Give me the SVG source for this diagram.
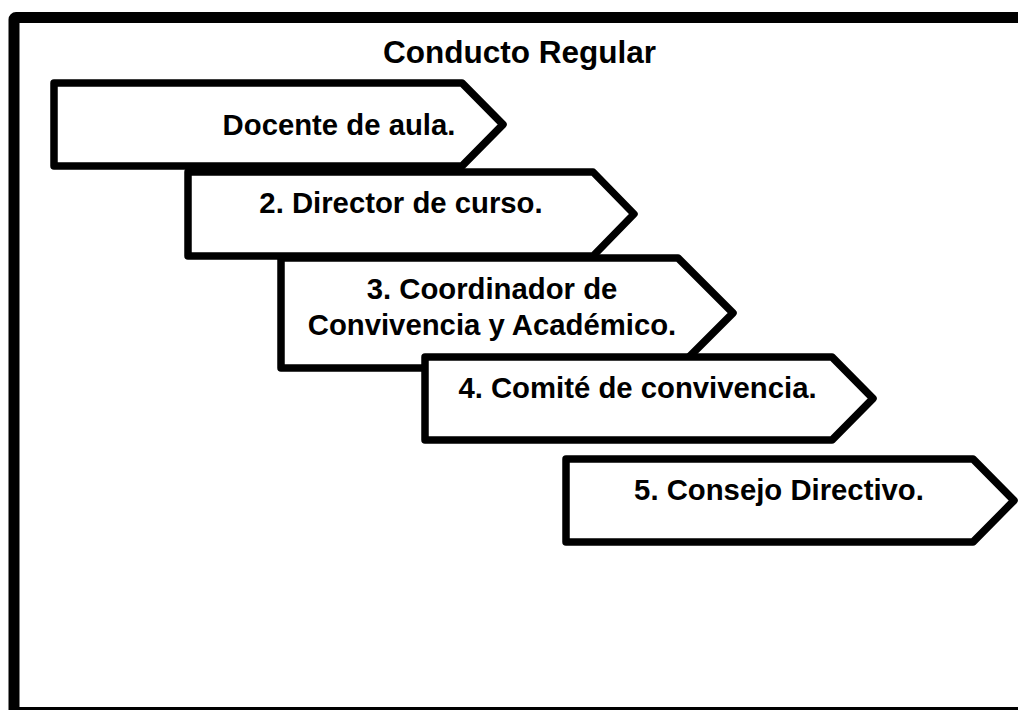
<svg xmlns="http://www.w3.org/2000/svg" width="1018" height="710" viewBox="0 0 1018 710">
<style>
.frame{fill:#fff;stroke:#000;stroke-width:11;stroke-linejoin:round}
.node path{fill:#fff;stroke:#000;stroke-width:7.5;stroke-linejoin:round}
text{font-family:"Liberation Sans",Arial,sans-serif;font-weight:bold;fill:#000;text-anchor:middle}
.lbl{font-size:29.3px}
.title{font-size:31.5px}
</style>
<rect class="frame" x="14" y="17.5" width="1012" height="695" rx="2"/>
<text class="title" x="519.5" y="63">Conducto Regular</text>
<g id="n1" class="node">
<path d="M54 83 H462 L503 124.5 L462 166 H54 Z"/>
<text class="lbl" x="339" y="135">Docente de aula.</text>
</g>
<g id="n2" class="node">
<path d="M188 172 H593 L634 214 L593 256 H188 Z"/>
<text class="lbl" x="401" y="213">2. Director de curso.</text>
</g>
<g id="n3" class="node">
<path d="M281 258 H678 L733 313 L678 368 H281 Z"/>
<text class="lbl" x="492" y="299">3. Coordinador de</text>
<text class="lbl" x="492" y="335">Convivencia y Académico.</text>
</g>
<g id="n4" class="node">
<path d="M425 357 H832 L873 398.5 L832 440 H425 Z"/>
<text class="lbl" x="637.5" y="398">4. Comité de convivencia.</text>
</g>
<g id="n5" class="node">
<path d="M566 459 H973 L1014 500.5 L973 542 H566 Z"/>
<text class="lbl" x="779" y="500">5. Consejo Directivo.</text>
</g>
<g id="connectors"></g>
</svg>
